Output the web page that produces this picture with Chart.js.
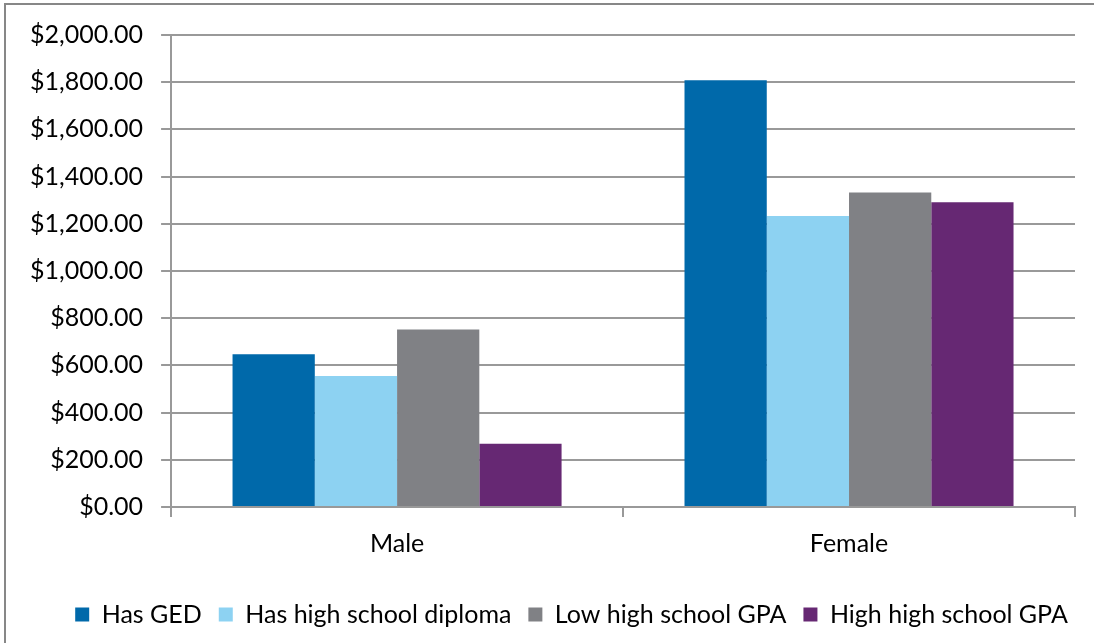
<!DOCTYPE html>
<html>
<head>
<meta charset="utf-8">
<script src="https://cdn.jsdelivr.net/npm/chart.js@4"></script>
<style>
  html, body { margin: 0; padding: 0; background: #fff; overflow: hidden; }
  #wrap { position: relative; width: 1094px; height: 643px; }
  #frame {
    position: absolute; left: 4px; top: 3px; width: 1200px; height: 800px;
    border-left: 2px solid #878787; border-top: 2px solid #878787;
    pointer-events: none;
  }
</style>
</head>
<body>
<div id="wrap">
  <canvas id="myChart" width="1094" height="643"></canvas>
  <div id="frame"></div>
</div>
<script>
const categories = ['Male', 'Female']
const seriesNames = ['Has GED', 'Has high school diploma', 'Low high school GPA', 'High high school GPA']
const hasGED = [647, 1808]
const hasDiploma = [555, 1233]
const lowGPA = [752, 1333]
const highGPA = [268, 1291]
const colors = ['#0069AA', '#8DD2F2', '#808185', '#662873']

const fontFamily = 'Lato, "Open Sans", sans-serif'
const gridColor = '#999999'

//money format like the spreadsheet axis
function money(v) {
  return '$' + Number(v).toLocaleString('en-US', { minimumFractionDigits: 2, maximumFractionDigits: 2 })
}

const allSeries = [hasGED, hasDiploma, lowGPA, highGPA]

// the legend sits centred under the plot area, not the whole canvas
const shiftLegend = {
  id: 'shiftLegend',
  afterLayout(chart) {
    const lg = chart.legend
    if (!lg) return
    lg.left += 28
    lg.right += 28
  }
}

new Chart(document.getElementById('myChart'), {
  type: 'bar',
  data: {
    labels: categories,
    datasets: allSeries.map((vals, i) => ({
      label: seriesNames[i],
      data: vals,
      backgroundColor: colors[i],
      borderWidth: 0,
      barPercentage: 1,
      categoryPercentage: 0.728
    }))
  },
  options: {
    responsive: false,
    animation: false,
    layout: { padding: { top: 35, right: 19, left: 12, bottom: 6 } },
    scales: {
      x: {
        grid: {
          offset: true,
          drawOnChartArea: false,
          drawTicks: true,
          tickLength: 10,
          color: gridColor,
          lineWidth: 2
        },
        border: { color: gridColor, width: 2 },
        ticks: {
          color: '#000',
          font: { family: fontFamily, size: 25 },
          padding: 12
        },
        // leave room between the category labels and the legend
        afterFit: (scale) => { scale.height += 14 }
      },
      y: {
        min: 0,
        max: 2000,
        ticks: {
          stepSize: 200,
          color: '#000',
          font: { family: fontFamily, size: 25 },
          padding: 18,
          callback: (v) => money(v)
        },
        grid: {
          color: gridColor,
          lineWidth: 2,
          tickLength: 10
        },
        border: { color: gridColor, width: 2 }
      }
    },
    plugins: {
      legend: {
        display: true,
        position: 'bottom',
        labels: {
          color: '#000',
          boxWidth: 14,
          boxHeight: 14,
          padding: 17,
          font: { family: fontFamily, size: 25 }
        }
      },
      tooltip: { enabled: false }
    }
  },
  plugins: [shiftLegend]
})
</script>
</body>
</html>
